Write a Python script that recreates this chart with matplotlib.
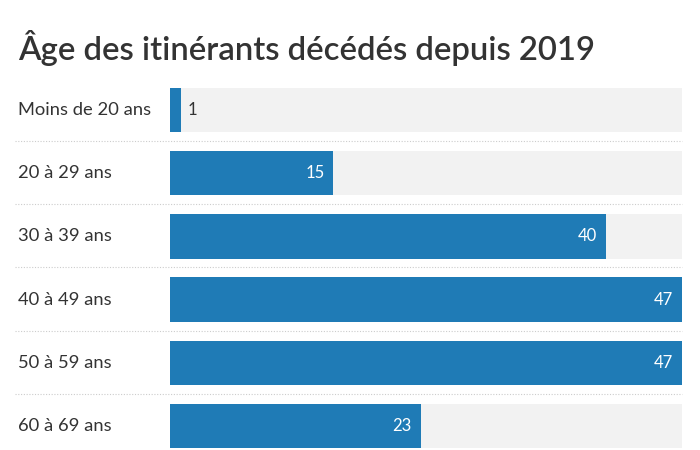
import matplotlib.pyplot as plt

categories = ["Moins de 20 ans", "20 à 29 ans", "30 à 39 ans", "40 à 49 ans", "50 à 59 ans", "60 à 69 ans"]
values = [1, 15, 40, 47, 47, 23]
max_value = 47
title = "Âge des itinérants décédés depuis 2019"

blue = "#1f7bb6"
grey_bg = "#f2f2f2"
text_col = "#333333"

plt.rcParams['font.family'] = ['Lato', 'DejaVu Sans']

fig = plt.figure(figsize=(7, 4.5), dpi=100)
ax = fig.add_axes([170 / 700, 2 / 450, 512 / 700, 360 / 450])

pos = list(range(len(categories)))
ax.barh(pos, [max_value] * len(pos), height=0.7, color=grey_bg, zorder=1)
ax.barh(pos, values, height=0.7, color=blue, zorder=2)

for i, v in enumerate(values):
    if v < 4:
        ax.text(v + 0.6, i, str(v), ha="left", va="center", fontsize=12, color=text_col, zorder=3)
    else:
        ax.text(v - 0.8, i, str(v), ha="right", va="center", fontsize=12, color="white", zorder=3)

# pointillés entre les lignes
for i in range(len(categories) - 1):
    fig.add_artist(plt.Line2D([15 / 700, 682 / 700],
                              [1 - (141 + i * 63.2) / 450] * 2,
                              color="#cccccc", lw=0.8, ls=(0, (1, 1.5))))

for i, c in enumerate(categories):
    y = 1 - (110 + i * 63.2) / 450
    fig.text(18 / 700, y, c, ha="left", va="center", fontsize=13.2, color=text_col)

fig.text(18 / 700, 1 - 60 / 450, title, ha="left", va="baseline", fontsize=23.7,
         fontweight="semibold", color=text_col)

ax.set_xlim(0, max_value)
ax.set_ylim(len(categories) - 0.65, -0.35)
ax.axis("off")

fig.savefig("out.png", dpi=100)
